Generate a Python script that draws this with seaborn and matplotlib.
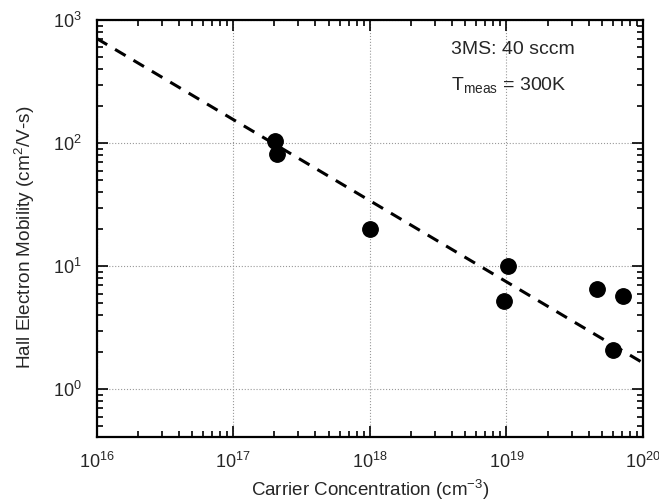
import numpy as np
import pandas as pd
import matplotlib
matplotlib.use("Agg")
import matplotlib.pyplot as plt
from matplotlib.ticker import LogLocator, NullFormatter, FixedLocator
import seaborn as sns

# measured points (carrier conc. cm^-3, Hall mobility cm^2/V-s)
carrier_conc = [2.02e17, 2.1e17, 1.0e18, 1.02e19, 9.6e18, 4.57e19, 7.1e19, 6.05e19]
mobility = [105, 82, 20, 10.1, 5.2, 6.5, 5.7, 2.08]

# dashed fit line end points
fit_x = [1e16, 1e20]
fit_y = [710, 1.64]

x_ticks = [1e16, 1e17, 1e18, 1e19, 1e20]
x_labels = ["16", "17", "18", "19", "20"]
y_ticks = [1e0, 1e1, 1e2, 1e3]
y_labels = ["0", "1", "2", "3"]

sns.set_style("ticks")
plt.rcParams['font.family'] = ['Liberation Sans', 'DejaVu Sans']
plt.rcParams['mathtext.fontset'] = 'custom'
plt.rcParams['mathtext.rm'] = 'Liberation Sans'
plt.rcParams['mathtext.it'] = 'Liberation Sans'

df = pd.DataFrame({'n': carrier_conc, 'mu': mobility})
fit = pd.DataFrame({'n': fit_x, 'mu': fit_y})

fig = plt.figure(figsize=(6.59, 5.04), dpi=100)
ax = fig.add_axes([0.1467, 0.133, 0.829, 0.827])

sns.lineplot(data=fit, x='n', y='mu', ax=ax, color='black',
             linestyle=(0, (4, 3)), linewidth=2.2)
sns.scatterplot(data=df, x='n', y='mu', ax=ax, color='black', s=125,
                edgecolor='black', zorder=5)

ax.set_xscale('log')
ax.set_yscale('log')
ax.set_xlim(1e16, 1e20)
ax.set_ylim(0.41, 1e3)

def pow_label(e):
    # "10" with a small raised exponent, like the original artwork
    return "$\\mathregular{10}^{\\mathregular{" + e + "}}$"

ax.xaxis.set_major_locator(FixedLocator(x_ticks))
ax.set_xticklabels([pow_label(e) for e in x_labels])
ax.yaxis.set_major_locator(FixedLocator(y_ticks))
ax.set_yticklabels([pow_label(e) for e in y_labels])
ax.xaxis.set_minor_locator(LogLocator(base=10, subs=np.arange(2, 10), numticks=20))
ax.yaxis.set_minor_locator(LogLocator(base=10, subs=np.arange(2, 10), numticks=20))
ax.xaxis.set_minor_formatter(NullFormatter())
ax.yaxis.set_minor_formatter(NullFormatter())

ax.tick_params(which='both', direction='in', top=True, right=True, labelsize=13,
               width=1.2, color='black')
ax.tick_params(which='major', length=8, pad=11)
ax.tick_params(which='minor', length=4.5)

for sp in ax.spines.values():
    sp.set_linewidth(1.6)
    sp.set_color('black')

ax.grid(True, which='major', linestyle=':', color='#999999', linewidth=0.8)

ax.set_xlabel("Carrier Concentration (cm$^{-3}$)", fontsize=13.5, labelpad=4)
ax.set_ylabel("Hall Electron Mobility (cm$^{2}$/V-s)", fontsize=13.7, labelpad=12)
ax.yaxis.set_label_coords(-0.11, 0.48)

ax.text(0.648, 0.930, "3MS: 40 sccm", transform=ax.transAxes, fontsize=14,
        va='center', ha='left')
ax.text(0.648, 0.844, "T$_{\\mathregular{meas}}$ = 300K", transform=ax.transAxes,
        fontsize=14, va='center', ha='left')

fig.savefig("out.png", dpi=100)
